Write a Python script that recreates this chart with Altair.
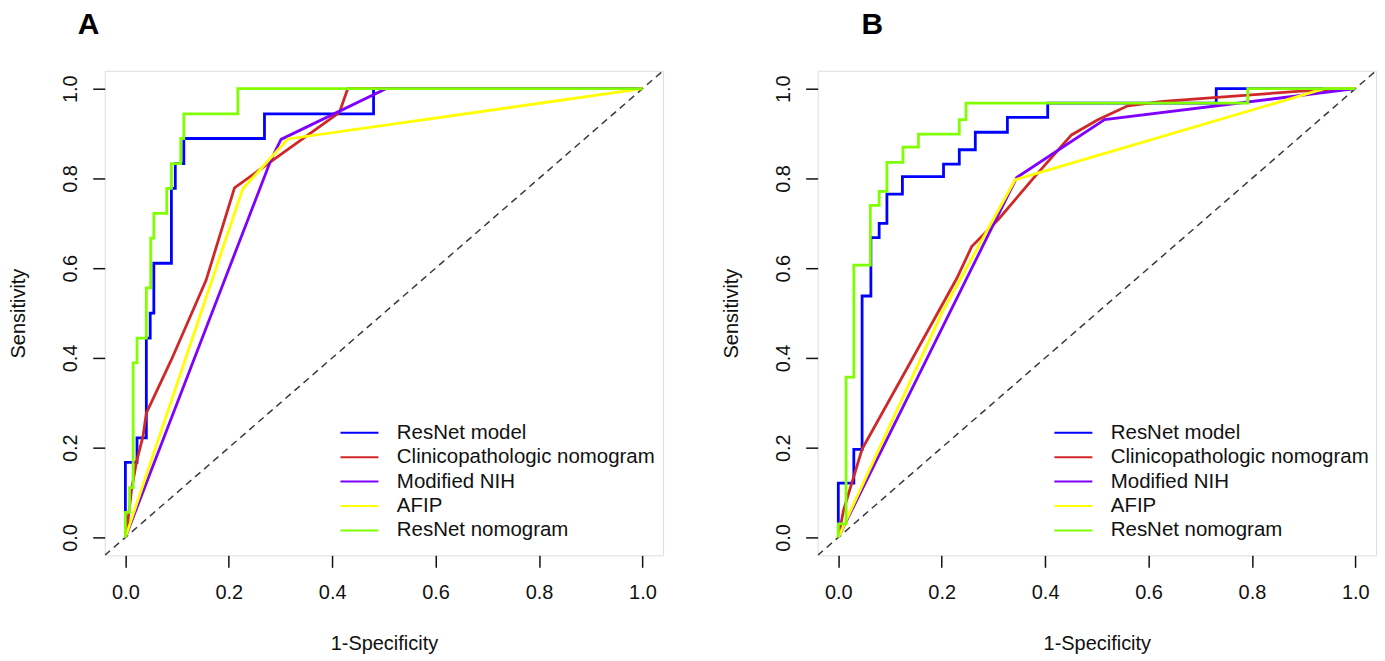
import altair as alt
import pandas as pd

MODELS = ["ResNet model", "Clinicopathologic nomogram", "Modified NIH", "AFIP", "ResNet nomogram"]
COLORS = ["#0000FF", "#D02828", "#7F00FF", "#FFFF00", "#80FF00"]
TICKS = [0.0, 0.2, 0.4, 0.6, 0.8, 1.0]
DIAG = [-0.04, 1.04]

# ---------------- Panel A ----------------
A_RESNET_FPR = [0, 0, 0.0225, 0.0225, 0.0405, 0.0405, 0.048, 0.048, 0.055, 0.055, 0.089, 0.089,
                0.0965, 0.0965, 0.113, 0.113, 0.269, 0.269, 0.48, 0.48, 1.0]
A_RESNET_TPR = [0, 0.167, 0.167, 0.222, 0.222, 0.444, 0.444, 0.5, 0.5, 0.611, 0.611, 0.778,
                0.778, 0.833, 0.833, 0.889, 0.889, 0.944, 0.944, 1.0, 1.0]
A_CLIN_FPR = [0, 0.003, 0.012, 0.021, 0.034, 0.0405, 0.089, 0.156, 0.211, 0.346, 0.414, 0.43, 1.0]
A_CLIN_TPR = [0, 0.018, 0.107, 0.166, 0.225, 0.277, 0.396, 0.573, 0.779, 0.891, 0.947, 1.0, 1.0]
A_NIH_FPR = [0, 0.281, 0.301, 0.504, 1.0]
A_NIH_TPR = [0, 0.84, 0.887, 1.0, 1.0]
A_AFIP_FPR = [0, 0.227, 0.314, 1.0]
A_AFIP_TPR = [0, 0.777, 0.888, 1.0]
A_RNOM_FPR = [0, 0, 0.008, 0.008, 0.015, 0.015, 0.0225, 0.0225, 0.0405, 0.0405, 0.049, 0.049,
              0.055, 0.055, 0.080, 0.080, 0.089, 0.089, 0.107, 0.107, 0.113, 0.113, 0.2175, 0.2175, 1.0]
A_RNOM_TPR = [0, 0.056, 0.056, 0.111, 0.111, 0.389, 0.389, 0.444, 0.444, 0.556, 0.556, 0.667,
              0.667, 0.722, 0.722, 0.778, 0.778, 0.833, 0.833, 0.889, 0.889, 0.944, 0.944, 1.0, 1.0]

# ---------------- Panel B ----------------
B_RESNET_FPR = [0, 0, 0.030, 0.030, 0.046, 0.046, 0.063, 0.063, 0.079, 0.079, 0.094, 0.094, 0.124,
                0.124, 0.2035, 0.2035, 0.234, 0.234, 0.265, 0.265, 0.327, 0.327, 0.405, 0.405,
                0.731, 0.731, 1.0]
B_RESNET_TPR = [0, 0.121, 0.121, 0.196, 0.196, 0.538, 0.538, 0.668, 0.668, 0.700, 0.700, 0.765,
                0.765, 0.804, 0.804, 0.832, 0.832, 0.864, 0.864, 0.903, 0.903, 0.936, 0.936, 0.968,
                0.968, 1.0, 1.0]
B_CLIN_FPR = [0, 0.01, 0.046, 0.136, 0.229, 0.258, 0.309, 0.38, 0.451, 0.502, 0.56, 0.628, 0.759, 0.888, 1.0]
B_CLIN_TPR = [0, 0.06, 0.197, 0.383, 0.577, 0.648, 0.708, 0.804, 0.897, 0.931, 0.962, 0.972, 0.983, 0.994, 1.0]
B_NIH_FPR = [0, 0.345, 0.515, 1.0]
B_NIH_TPR = [0, 0.802, 0.931, 1.0]
B_AFIP_FPR = [0, 0.2, 0.342, 0.94, 1.0]
B_AFIP_TPR = [0, 0.5, 0.797, 1.0, 1.0]
B_RNOM_FPR = [0, 0, 0.015, 0.015, 0.030, 0.030, 0.062, 0.062, 0.079, 0.079, 0.094, 0.094, 0.125,
              0.125, 0.155, 0.155, 0.234, 0.234, 0.247, 0.247, 0.792, 0.792, 1.0]
B_RNOM_TPR = [0, 0.030, 0.030, 0.357, 0.357, 0.607, 0.607, 0.740, 0.740, 0.771, 0.771, 0.836,
              0.836, 0.870, 0.870, 0.899, 0.899, 0.931, 0.931, 0.968, 0.968, 1.0, 1.0]

FONT = "Liberation Sans"
W, H = 560, 486


def make_df(fprs, tprs):
    rows = []
    for m, f, t in zip(MODELS, fprs, tprs):
        for i, (x, y) in enumerate(zip(f, t)):
            rows.append({"model": m, "fpr": x, "tpr": y, "i": i})
    return pd.DataFrame(rows)


def panel(df, letter, title_dx, legend_x):
    xs = alt.Scale(domain=[-0.04, 1.04], nice=False, zero=False)
    ys = alt.Scale(domain=[-0.04, 1.04], nice=False, zero=False)
    xaxis = alt.Axis(values=TICKS, format=".1f", tickSize=12, tickWidth=1.5, tickColor="#111111",
                     domain=False, grid=False, labelFontSize=20, labelFont=FONT, labelColor="#111111",
                     labelPadding=15, titleFontSize=20, titleFont=FONT, titleFontWeight="normal",
                     titleColor="#111111", titleY=94, titleX=W / 2, titleBaseline="alphabetic",
                     titleAlign="center")
    yaxis = alt.Axis(values=TICKS, format=".1f", tickSize=12, tickWidth=1.5, tickColor="#111111",
                     domain=False, grid=False, labelFontSize=20, labelFont=FONT, labelColor="#111111",
                     labelPadding=16, labelAngle=270, labelAlign="center", labelBaseline="alphabetic",
                     titleFontSize=20, titleFont=FONT, titleFontWeight="normal", titleColor="#111111",
                     titleAngle=270, titleX=-80, titleY=H / 2, titleBaseline="alphabetic",
                     titleAlign="center")
    legend = alt.Legend(orient="none", legendX=legend_x, legendY=352, title=None, symbolType="stroke",
                        symbolSize=1450, symbolStrokeWidth=2, labelFontSize=20.5, labelFont=FONT,
                        labelColor="#111111", labelOffset=17, clipHeight=22, rowPadding=2.5,
                        padding=0, labelLimit=400)
    diag = alt.Chart(pd.DataFrame({"x": DIAG, "y": DIAG})).mark_line(
        color="#3a3a3a", strokeDash=[7, 5], strokeWidth=1.5, clip=True
    ).encode(
        x=alt.X("x:Q", scale=xs, axis=xaxis, title="1-Specificity"),
        y=alt.Y("y:Q", scale=ys, axis=yaxis, title="Sensitivity"),
    )
    layers = [diag]
    for m in MODELS:
        layers.append(
            alt.Chart(df).transform_filter(alt.datum.model == m).mark_line(
                strokeWidth=2.8, clip=True
            ).encode(
                x=alt.X("fpr:Q", scale=xs, axis=xaxis, title="1-Specificity"),
                y=alt.Y("tpr:Q", scale=ys, axis=yaxis, title="Sensitivity"),
                color=alt.Color("model:N", scale=alt.Scale(domain=MODELS, range=COLORS), legend=legend),
                order="i:Q",
            )
        )
    return alt.layer(*layers).properties(
        width=W, height=H,
        title=alt.TitleParams(letter, anchor="start", frame="group", fontSize=30, fontWeight="bold",
                              font=FONT, color="#000000", dx=title_dx, offset=7, baseline="alphabetic"),
    )


dfA = make_df([A_RESNET_FPR, A_CLIN_FPR, A_NIH_FPR, A_AFIP_FPR, A_RNOM_FPR],
              [A_RESNET_TPR, A_CLIN_TPR, A_NIH_TPR, A_AFIP_TPR, A_RNOM_TPR])
dfB = make_df([B_RESNET_FPR, B_CLIN_FPR, B_NIH_FPR, B_AFIP_FPR, B_RNOM_FPR],
              [B_RESNET_TPR, B_CLIN_TPR, B_NIH_TPR, B_AFIP_TPR, B_RNOM_TPR])

chart = alt.hconcat(panel(dfA, "A", -27, 235), panel(dfB, "B", 44, 236), spacing=57).resolve_scale(
    color="independent").resolve_legend(color="independent").properties(padding=0).configure_view(
    stroke="#222222", strokeWidth=2).configure(background="white")

chart.save("out.html", embed_options={"renderer": "svg", "actions": False})
